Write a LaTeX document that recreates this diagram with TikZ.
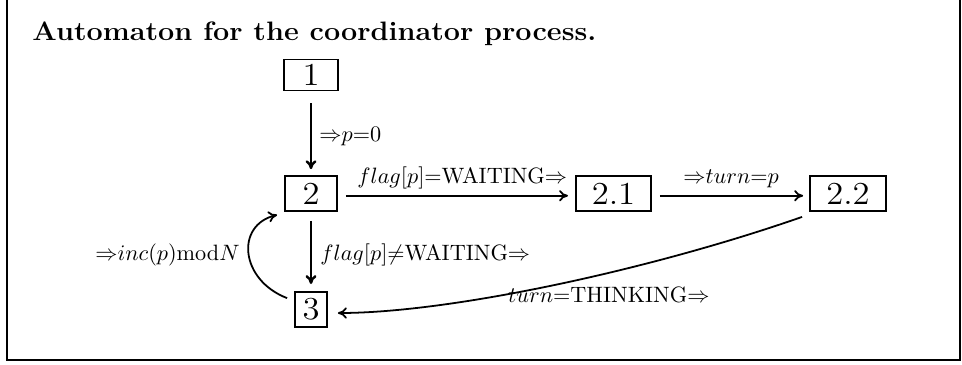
\documentclass[tikz,border=0pt]{standalone}
\usepackage{amssymb}
\usepackage{graphicx}
\usetikzlibrary{arrows.meta}
\newcommand{\boxtxt}[1]{\scalebox{1.3}[1.2]{\large #1}}
\begin{document}
\begin{tikzpicture}[x=0.45pt,y=-0.45pt,
  state/.style={draw,line width=0.8pt,inner sep=0pt},
  edge/.style={line width=0.8pt,-{To[length=4pt,width=5pt]}},
  vedge/.style={line width=1.1pt,-{To[length=4pt,width=5pt]}},
  lbl/.style={inner sep=0pt,anchor=base west}]
\useasboundingbox (0,0) rectangle (962,364);
\draw[line width=1pt] (7,0) -- (7,360) -- (960,360) -- (960,0);
\node[anchor=base west,inner sep=0pt] (title) at (32,40) {\scalebox{1.08}[1.0]{\large\bfseries Automaton for the coordinator process.}};
\node[state,minimum width=24.3pt,minimum height=14pt] (b1) at (311,75) {\boxtxt{1}};
\node[state,minimum width=23.4pt,minimum height=15.75pt] (b2) at (311,193.5) {\boxtxt{2}};
\node[state,minimum width=33.75pt,minimum height=15.75pt] (b21) at (613.5,193.5) {\boxtxt{2.1}};
\node[state,minimum width=34.2pt,minimum height=15.75pt] (b22) at (848,193.5) {\boxtxt{2.2}};
\node[state,minimum width=14.4pt,minimum height=15.75pt] (b3) at (311,309.5) {\boxtxt{3}};
\draw[vedge,shorten <=5.4pt,shorten >=2.7pt] (b1) -- (b2);
\draw[edge,shorten <=3.6pt,shorten >=3.2pt] ([yshift=-1pt]b2.east) -- ([yshift=-1pt]b21.west);
\draw[edge,shorten <=3.6pt,shorten >=2.7pt] ([yshift=-1pt]b21.east) -- ([yshift=-1pt]b22.west);
\draw[vedge,shorten <=4pt,shorten >=3.2pt] (b2) -- (b3);
\draw[edge] ([shift={(-7,5)}]b22.south west) .. controls (650,270) and (450,313) .. ([shift={(10,3.5)}]b3.east);
\draw[edge] ([shift={(-7,7)}]b3.north west) .. controls (240,280) and (235,225) .. ([shift={(-7,3)}]b2.south west);
\node[lbl] (l12) at (319,141) {${\Rightarrow}p{=}0$};
\node[lbl] (l221) at (357,183) {$flag[p]{=}\mathrm{WAITING}{\Rightarrow}$};
\node[lbl] (l2122) at (683,183) {${\Rightarrow}turn{=}p$};
\node[lbl] (l23) at (320,260) {$flag[p]{\neq}\mathrm{WAITING}{\Rightarrow}$};
\node[lbl] (l32) at (95,260) {${\Rightarrow}inc(p)\mathrm{mod}N$};
\node[lbl] (l223) at (508,302) {$turn{=}\mathrm{THINKING}{\Rightarrow}$};
\end{tikzpicture}
\end{document}
